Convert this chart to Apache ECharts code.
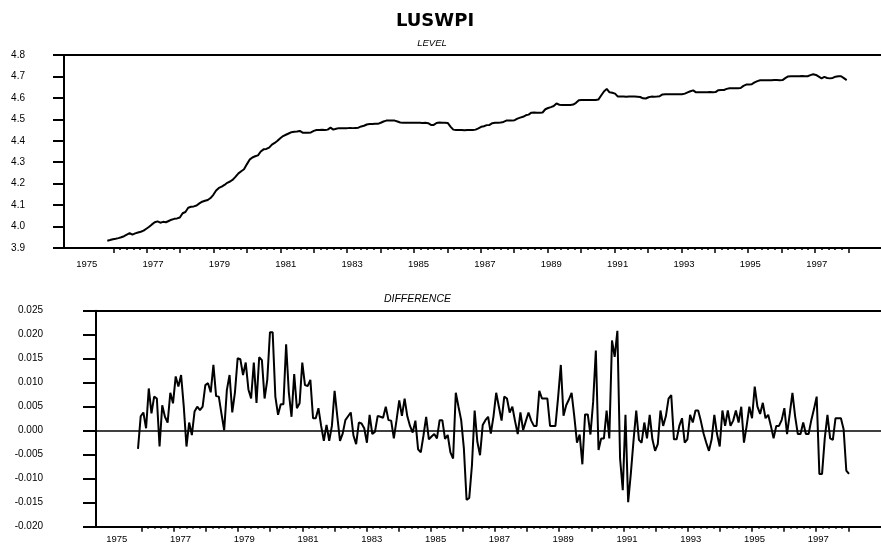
<!DOCTYPE html>
<html><head><meta charset="utf-8">
<script src="https://cdn.jsdelivr.net/npm/echarts@6/dist/echarts.min.js"></script>
<style>html,body{margin:0;padding:0;background:#fff}#c{width:881px;height:544px}</style>
</head><body><div id="c"></div>
<script>
// ---- data (monthly) ----
const chartTitle = 'LUSWPI';
const levelTitle = 'LEVEL';
const diffTitle = 'DIFFERENCE';
const levelStart = [1975, 11];   // first month of LEVEL
const diffStart = [1975, 12];    // first month of DIFFERENCE
const levelValues = [
 3.934,3.937,
 3.941,3.943,3.946,3.950,3.955,3.962,3.969,3.962,3.968,3.972,3.976,3.981,
 3.990,3.999,4.010,4.020,4.024,4.018,4.022,4.020,4.026,4.032,4.036,4.038,
 4.042,4.062,4.068,4.088,4.092,4.094,4.098,4.108,4.116,4.120,4.124,4.133,
 4.148,4.168,4.180,4.186,4.194,4.204,4.210,4.219,4.233,4.248,4.258,4.267,
 4.290,4.312,4.322,4.328,4.332,4.350,4.360,4.362,4.368,4.382,4.390,4.400,
 4.412,4.422,4.428,4.434,4.440,4.442,4.443,4.446,4.438,4.437,4.437,4.439,
 4.446,4.450,4.450,4.451,4.450,4.452,4.461,4.452,4.456,4.459,4.459,4.459,
 4.459,4.460,4.459,4.460,4.461,4.467,4.470,4.476,4.478,4.478,4.479,4.479,
 4.484,4.490,4.494,4.495,4.494,4.494,4.490,4.485,4.484,4.484,4.484,4.484,
 4.484,4.484,4.484,4.483,4.484,4.482,4.474,4.474,4.483,4.485,4.484,4.484,
 4.483,4.466,4.452,4.450,4.450,4.450,4.449,4.450,4.450,4.450,4.452,4.458,
 4.465,4.468,4.473,4.474,4.482,4.484,4.484,4.485,4.488,4.494,4.494,4.494,
 4.496,4.503,4.508,4.512,4.519,4.522,4.531,4.532,4.531,4.531,4.532,4.547,
 4.553,4.557,4.562,4.574,4.568,4.567,4.567,4.567,4.567,4.569,4.577,4.589,
 4.590,4.590,4.590,4.590,4.590,4.590,4.592,4.611,4.630,4.642,4.626,4.624,
 4.620,4.606,4.606,4.606,4.605,4.607,4.606,4.606,4.605,4.604,4.598,4.597,
 4.603,4.606,4.605,4.606,4.608,4.616,4.617,4.617,4.617,4.617,4.617,4.617,
 4.617,4.620,4.626,4.631,4.635,4.626,4.626,4.626,4.626,4.626,4.627,4.626,
 4.627,4.636,4.637,4.637,4.642,4.645,4.645,4.645,4.645,4.646,4.656,4.662,
 4.662,4.664,4.672,4.678,4.682,4.682,4.682,4.682,4.682,4.683,4.683,4.682,
 4.683,4.692,4.700,4.701,4.701,4.701,4.701,4.702,4.701,4.701,4.706,4.710,
 4.707,4.699,4.691,4.698,4.693,4.691,4.693,4.699,4.701,4.701,4.692,4.683
];
const diffValues = [
 -0.0038,0.0030,0.0038,0.0005,0.0088,0.0036,0.0071,0.0067,-0.0033,0.0053,
 0.0029,0.0017,0.0079,0.0057,0.0113,0.0092,0.0116,0.0050,-0.0033,0.0017,
 -0.0009,0.0040,0.0050,0.0043,0.0050,0.0095,0.0099,0.0080,0.0137,0.0072,
 0.0071,0.0035,0.0001,0.0085,0.0116,0.0038,0.0080,0.0151,0.0149,0.0116,
 0.0142,0.0086,0.0067,0.0142,0.0058,0.0153,0.0147,0.0067,0.0106,0.0205,
 0.0205,0.0071,0.0033,0.0055,0.0055,0.0180,0.0080,0.0029,0.0118,0.0047,
 0.0057,0.0142,0.0095,0.0093,0.0106,0.0026,0.0026,0.0047,0.0010,-0.0021,
 0.0012,-0.0021,0.0010,0.0083,0.0030,-0.0021,-0.0006,0.0022,0.0030,0.0038,
 -0.0010,-0.0028,0.0017,0.0015,0.0005,-0.0025,0.0033,-0.0007,-0.0002,0.0031,
 0.0029,0.0027,0.0050,0.0022,0.0021,-0.0016,0.0022,0.0063,0.0031,0.0067,
 0.0030,0.0010,-0.0004,0.0021,-0.0039,-0.0045,-0.0010,0.0029,-0.0018,-0.0012,
 -0.0007,-0.0016,0.0022,0.0022,-0.0017,-0.0009,-0.0045,-0.0058,0.0079,0.0050,
 0.0022,-0.0037,-0.0144,-0.0140,-0.0072,0.0042,-0.0023,-0.0051,0.0012,0.0022,
 0.0029,-0.0006,0.0030,0.0079,0.0050,0.0021,0.0071,0.0067,0.0038,0.0050,
 0.0020,-0.0007,0.0038,0.0001,0.0020,0.0038,0.0021,0.0010,0.0010,0.0083,
 0.0067,0.0067,0.0067,0.0010,0.0010,0.0010,0.0070,0.0137,0.0031,0.0053,
 0.0065,0.0079,0.0030,-0.0025,-0.0008,-0.0070,0.0034,0.0034,-0.0008,0.0060,
 0.0167,-0.0040,-0.0016,-0.0016,0.0042,-0.0016,0.0188,0.0154,0.0208,-0.0058,
 -0.0124,0.0033,-0.0149,-0.0089,-0.0020,0.0042,-0.0019,-0.0025,0.0017,-0.0016,
 0.0033,-0.0018,-0.0042,-0.0028,0.0042,0.0010,0.0030,0.0067,0.0074,-0.0018,
 -0.0018,0.0010,0.0026,-0.0025,-0.0018,0.0033,0.0017,0.0042,0.0042,0.0020,
 -0.0006,-0.0025,-0.0042,-0.0018,0.0033,-0.0007,-0.0033,0.0042,0.0010,0.0042,
 0.0010,0.0021,0.0042,0.0017,0.0050,-0.0025,0.0010,0.0050,0.0026,0.0092,
 0.0050,0.0035,0.0058,0.0026,0.0033,0.0010,-0.0016,0.0010,0.0010,0.0022,
 0.0047,-0.0007,0.0035,0.0079,0.0030,-0.0007,-0.0007,0.0017,-0.0007,-0.0007,
 0.0022,0.0045,0.0071,-0.0090,-0.0090,-0.0016,0.0033,-0.0016,-0.0019,0.0026,
 0.0026,0.0026,0.0003,-0.0083,-0.0090
];
const levelYTicks = [3.9, 4.0, 4.1, 4.2, 4.3, 4.4, 4.5, 4.6, 4.7, 4.8];
const diffYTicks = [-0.020, -0.015, -0.010, -0.005, 0.000, 0.005, 0.010, 0.015, 0.020, 0.025];
const yearTicks = [1976, 1998];            // first/last major tick year
const yearLabels = [1975, 1977, 1979, 1981, 1983, 1985, 1987, 1989, 1991, 1993, 1995, 1997];

// ---- build ----
function monthTime(start, i) { return start[0] + (start[1] - 1 + i) / 12; }
const levelData = levelValues.map((v, i) => [monthTime(levelStart, i), v]);
const diffData = diffValues.map((v, i) => [monthTime(diffStart, i), v]);

const BLACK = '#000';
const labelFont = { color: BLACK, fontFamily: 'Liberation Sans, Arial, sans-serif', fontSize: 10 };
const xLabelFont = { color: BLACK, fontFamily: 'Liberation Sans, Arial, sans-serif', fontSize: 9.5 };

// panels: top (level) and bottom (difference)
const P = [
  { top: 55, height: 193, dataLeft: 64, dataMin: 1974.540, dataMax: 1998.942,
    tickLeft: 113.3, tickRight: 32.7, labLeft: 86.7, labRight: 64.3,
    yTicks: levelYTicks, dec: 1, tickLen: 11, labMargin: 39, xLabMargin: 11 },
  { top: 310.7, height: 216, dataLeft: 96, dataMin: 1974.617, dataMax: 1998.907,
    tickLeft: 141.7, tickRight: 32.7, labLeft: 116.7, labRight: 62.7,
    yTicks: diffYTicks, dec: 3, tickLen: 13, labMargin: 53, xLabMargin: 9 }
];

const grid = [], xAxis = [], yAxis = [];
P.forEach((p) => {
  const g = grid.length;
  grid.push({ left: p.dataLeft, right: 0, top: p.top, height: p.height });
  grid.push({ left: p.tickLeft, right: p.tickRight, top: p.top, height: p.height });
  grid.push({ left: p.labLeft, right: p.labRight, top: p.top, height: p.height });
  // data x axis (bottom line) + top border line
  xAxis.push({ gridIndex: g, type: 'value', min: p.dataMin, max: p.dataMax, position: 'bottom',
    axisLine: { show: true, onZero: false, lineStyle: { color: BLACK, width: 2 } },
    axisTick: { show: false }, axisLabel: { show: false }, splitLine: { show: false } });
  xAxis.push({ gridIndex: g, type: 'value', min: p.dataMin, max: p.dataMax, position: 'top',
    axisLine: { show: true, onZero: false, lineStyle: { color: BLACK, width: 2 } },
    axisTick: { show: false }, axisLabel: { show: false }, splitLine: { show: false } });
  // tick axis (years, with 4 minor ticks)
  xAxis.push({ gridIndex: g + 1, type: 'value', min: yearTicks[0], max: yearTicks[1], interval: 1,
    axisLine: { show: false, onZero: false },
    axisTick: { show: true, length: 5, lineStyle: { color: BLACK, width: 1.5 } },
    minorTick: { show: true, splitNumber: 5, length: 2, lineStyle: { color: BLACK, width: 1.5 } },
    axisLabel: { show: false }, splitLine: { show: false }, minorSplitLine: { show: false } });
  // year label axis
  xAxis.push({ gridIndex: g + 2, type: 'value', min: yearLabels[0], max: yearLabels[yearLabels.length - 1], interval: 2,
    axisLine: { show: false, onZero: false }, axisTick: { show: false }, splitLine: { show: false },
    axisLabel: Object.assign({ show: true, margin: p.xLabMargin, formatter: v => String(v),
      showMinLabel: true, showMaxLabel: true, hideOverlap: false }, xLabelFont) });
  yAxis.push({ gridIndex: g, type: 'value', min: p.yTicks[0], max: p.yTicks[p.yTicks.length - 1],
    interval: Math.round((p.yTicks[1] - p.yTicks[0]) * 1000) / 1000,
    axisLine: { show: true, onZero: false, lineStyle: { color: BLACK, width: 2 } },
    axisTick: { show: true, length: p.tickLen, lineStyle: { color: BLACK, width: 2 } },
    splitLine: { show: false },
    axisLabel: Object.assign({ margin: p.labMargin, formatter: v => Number(v).toFixed(p.dec),
      showMinLabel: true, showMaxLabel: true }, labelFont) });
  yAxis.push({ gridIndex: g + 1, type: 'value', show: false, min: 0, max: 1 });
  yAxis.push({ gridIndex: g + 2, type: 'value', show: false, min: 0, max: 1 });
});

const option = {
  animation: false,
  backgroundColor: '#fff',
  grid, xAxis, yAxis,
  graphic: [
    { type: 'text', x: 435, y: 21.5, style: { text: chartTitle, fill: BLACK,
      font: 'bold 18px "DejaVu Sans", sans-serif', textAlign: 'center', textVerticalAlign: 'middle' } },
    { type: 'text', x: 432, y: 43, style: { text: levelTitle, fill: BLACK,
      font: 'italic 9.5px "Liberation Sans", Arial, sans-serif', textAlign: 'center', textVerticalAlign: 'middle' } },
    { type: 'text', x: 417.5, y: 299, style: { text: diffTitle, fill: BLACK,
      font: 'italic 10.5px "Liberation Sans", Arial, sans-serif', textAlign: 'center', textVerticalAlign: 'middle' } }
  ],
  series: [
    { type: 'line', name: 'LEVEL', xAxisIndex: 0, yAxisIndex: 0, data: levelData, showSymbol: false,
      symbol: 'none', lineStyle: { color: BLACK, width: 2 }, silent: true },
    { type: 'line', name: 'DIFFERENCE', xAxisIndex: 4, yAxisIndex: 3, data: diffData, showSymbol: false,
      symbol: 'none', lineStyle: { color: BLACK, width: 2 }, silent: true,
      markLine: { silent: true, symbol: ['none', 'none'], label: { show: false },
        lineStyle: { color: BLACK, width: 1.5, type: 'solid' }, data: [{ yAxis: 0 }] } }
  ]
};
const chart = echarts.init(document.getElementById('c'), null, { renderer: 'canvas' });
chart.setOption(option);
</script>
</body></html>
